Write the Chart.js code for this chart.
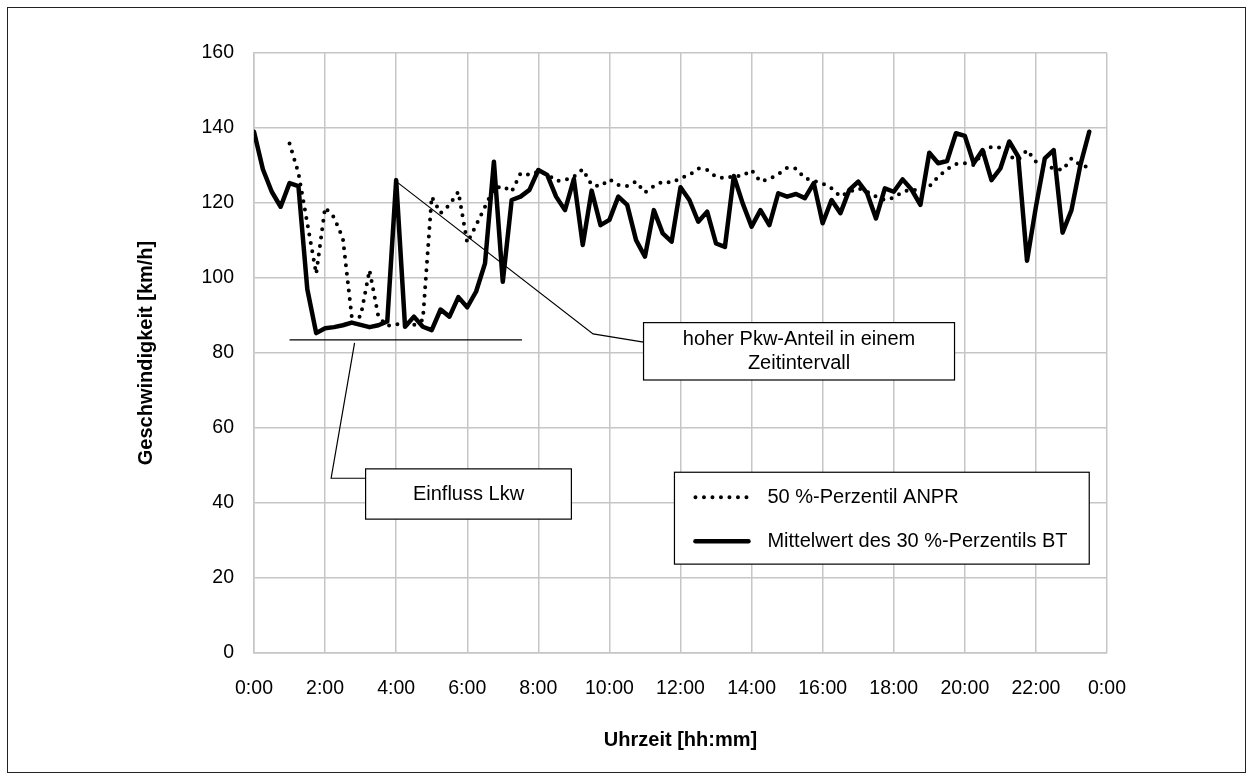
<!DOCTYPE html>
<html lang="de">
<head>
<meta charset="utf-8">
<title>Geschwindigkeit im Tagesverlauf</title>
<script src="https://cdn.jsdelivr.net/npm/chart.js@4.4.1/dist/chart.umd.min.js"></script>
<style>
  html, body { margin: 0; padding: 0; background: #fff; }
  #wrap { width: 1253px; height: 780px; }
</style>
</head>
<body>
<div id="wrap"><canvas id="speedChart" width="1253" height="780"></canvas></div>
<script>
// 15-Minuten-Intervalle 0:00 ... 23:45
const timeSlots = [];
for (let h = 0; h < 24; h++) {
    for (let m = 0; m < 60; m += 15) timeSlots.push(h + ':' + String(m).padStart(2, '0'));
}

const xTickLabels = ['0:00', '2:00', '4:00', '6:00', '8:00', '10:00', '12:00',
                     '14:00', '16:00', '18:00', '20:00', '22:00', '0:00'];
const yTickValues = [0, 20, 40, 60, 80, 100, 120, 140, 160];

// 50 %-Perzentil ANPR (km/h)
const anprMedian = [
    null, null, null, null,
    135.9, 128.0, 114.6, 101.1,
    118.8, 116.2, 110.6, 89.7,
    89.7, 102.1, 89.7, 87.2,
    87.7, 87.5, 87.5, 88.8,
    121.7, 117.3, 119.5, 123.0,
    109.4, 114.1, 119.0, 123.9,
    124.5, 123.0, 127.9, 127.5,
    128.4, 127.7, 125.9, 126.1,
    127.0, 129.0, 124.8, 124.5,
    126.3, 124.8, 124.5, 125.7,
    122.8, 124.5, 125.7, 125.4,
    126.6, 127.5, 129.2, 128.8,
    127.0, 126.6, 127.2, 127.2,
    128.8, 125.7, 126.4, 127.7,
    129.4, 129.2, 126.6, 125.9,
    125.2, 123.9, 121.7, 123.0,
    123.9, 123.0, 121.7, 120.8,
    121.4, 123.0, 123.6, 123.3,
    124.4, 127.0, 129.0, 130.4,
    130.6, 130.1, 133.4, 135.0,
    134.8, 132.5, 131.5, 134.1,
    131.0, 130.1, 129.2, 128.8,
    131.9, 130.1, 129.5, null
];

// Mittelwert des 30 %-Perzentils BT (km/h)
const btMean30 = [
    139.0, 129.0, 123.0, 119.0,
    125.3, 124.5, 97.0, 85.3,
    86.6, 86.9, 87.4, 88.1,
    87.5, 86.9, 87.4, 88.4,
    126.1, 87.0, 89.7, 87.0,
    86.1, 91.6, 89.7, 94.9,
    92.2, 96.4, 103.9, 131.0,
    99.0, 120.8, 121.7, 123.5,
    128.8, 127.5, 121.7, 118.1,
    126.4, 108.8, 123.3, 114.1,
    115.5, 121.7, 119.5, 110.1,
    105.7, 118.1, 111.9, 109.7,
    124.2, 120.8, 115.0, 117.7,
    109.2, 108.3, 127.2, 119.9,
    113.7, 118.1, 114.1, 122.6,
    121.7, 122.4, 121.3, 125.3,
    114.6, 120.8, 117.3, 123.5,
    125.7, 122.6, 115.9, 123.9,
    123.0, 126.3, 123.6, 119.5,
    133.4, 130.6, 131.2, 138.6,
    137.9, 130.6, 134.1, 126.1,
    129.2, 136.4, 132.4, 104.6,
    119.0, 131.9, 134.1, 112.1,
    118.1, 130.1, 139.0, null
];

const toHours = s => { const [h, m] = s.split(':'); return +h + m / 60; };
const asPoints = values => timeSlots.map((s, i) => ({ x: toHours(s), y: values[i] }));

const FONT = '"Liberation Sans", Arial, sans-serif';
const GRID = '#c6c6c6';

// Annotationen in Datenkoordinaten (Stunden / km/h)
const callouts = [
    { line: [[1.0, 83.5], [7.54, 83.5]] },
    { line: [[2.83, 82.7], [2.17, 46.6], [3.14, 46.6]],
      box: { t0: 3.14, t1: 8.93, v0: 49.1, v1: 35.7 }, text: ['Einfluss Lkw'] },
    { line: [[3.98, 125.9], [9.54, 85.1], [10.96, 82.9]],
      box: { t0: 10.96, t1: 19.71, v0: 88.1, v1: 72.8 }, text: ['hoher Pkw-Anteil in einem', 'Zeitintervall'] }
];
const legendBox = { t0: 11.83, t1: 23.5, v0: 48.2, v1: 23.7 };

const overlay = {
    id: 'overlay',
    afterDraw(chart) {
        const { ctx, scales: { x, y } } = chart;
        ctx.save();

        // Rahmen um die gesamte Grafik
        ctx.strokeStyle = '#222';
        ctx.lineWidth = 1;
        ctx.strokeRect(7.5, 7.5, 1238, 765);

        ctx.font = '20px ' + FONT;
        ctx.fillStyle = '#000';
        ctx.textBaseline = 'middle';

        callouts.forEach(c => {
            ctx.strokeStyle = '#000';
            ctx.lineWidth = 1.2;
            ctx.beginPath();
            c.line.forEach(([t, v], i) => {
                const px = x.getPixelForValue(t), py = y.getPixelForValue(v);
                i ? ctx.lineTo(px, py) : ctx.moveTo(px, py);
            });
            ctx.stroke();
            if (!c.box) return;
            const bx = x.getPixelForValue(c.box.t0), bw = x.getPixelForValue(c.box.t1) - bx;
            const by = y.getPixelForValue(c.box.v0), bh = y.getPixelForValue(c.box.v1) - by;
            ctx.fillStyle = '#fff';
            ctx.fillRect(bx, by, bw, bh);
            ctx.strokeRect(bx, by, bw, bh);
            ctx.fillStyle = '#000';
            ctx.textAlign = 'center';
            const lh = 24;
            c.text.forEach((line, i) => {
                ctx.fillText(line, bx + bw / 2, by + bh / 2 + (i - (c.text.length - 1) / 2) * lh);
            });
        });

        // Legende
        const lx = x.getPixelForValue(legendBox.t0), lw = x.getPixelForValue(legendBox.t1) - lx;
        const ly = y.getPixelForValue(legendBox.v0), lhgt = y.getPixelForValue(legendBox.v1) - ly;
        ctx.fillStyle = '#fff';
        ctx.fillRect(lx, ly, lw, lhgt);
        ctx.strokeStyle = '#000';
        ctx.lineWidth = 1.2;
        ctx.strokeRect(lx, ly, lw, lhgt);
        ctx.textAlign = 'left';
        chart.data.datasets.forEach((ds, i) => {
            const rowY = ly + 25 + i * 44;
            ctx.strokeStyle = ds.borderColor;
            ctx.lineWidth = ds.borderWidth;
            ctx.lineCap = ds.borderCapStyle;
            ctx.setLineDash(ds.borderDash || []);
            ctx.beginPath();
            ctx.moveTo(lx + 21, rowY);
            ctx.lineTo(lx + 74, rowY);
            ctx.stroke();
            ctx.setLineDash([]);
            ctx.fillStyle = '#000';
            ctx.fillText(ds.label, lx + 93, rowY);
        });
        ctx.restore();
    }
};

new Chart(document.getElementById('speedChart'), {
    type: 'line',
    data: {
        datasets: [{
            label: '50 %-Perzentil ANPR',
            data: asPoints(anprMedian),
            borderColor: '#000',
            borderWidth: 4,
            borderDash: [0, 8.5],
            borderCapStyle: 'round',
            pointRadius: 0,
            tension: 0,
            order: 1
        }, {
            label: 'Mittelwert des 30 %-Perzentils BT',
            data: asPoints(btMean30),
            borderColor: '#000',
            borderWidth: 4.5,
            borderCapStyle: 'round',
            borderJoinStyle: 'round',
            pointRadius: 0,
            tension: 0,
            order: 0
        }]
    },
    options: {
        responsive: false,
        animation: false,
        layout: { padding: { top: 53, right: 146, bottom: 0, left: 0 } },
        plugins: {
            legend: { display: false },
            tooltip: { enabled: false }
        },
        scales: {
            x: {
                type: 'linear',
                min: 0,
                max: 24,
                afterFit: s => { s.height = 127; },
                afterBuildTicks: s => { s.ticks = xTickLabels.map((_, i) => ({ value: i * 2 })); },
                ticks: {
                    autoSkip: false,
                    maxRotation: 0,
                    padding: 24,
                    color: '#000',
                    font: { family: FONT, size: 19.5 },
                    callback: (v, i) => xTickLabels[i]
                },
                grid: { color: GRID, lineWidth: 1.5, drawTicks: false },
                border: { color: GRID, width: 1.5 },
                title: {
                    display: true,
                    text: 'Uhrzeit [hh:mm]',
                    color: '#000',
                    font: { family: FONT, size: 20, weight: 'bold' },
                    padding: { top: 0, bottom: 28 }
                }
            },
            y: {
                min: 0,
                max: 160,
                afterFit: s => { s.width = 254; },
                afterBuildTicks: s => { s.ticks = yTickValues.map(v => ({ value: v })); },
                ticks: {
                    padding: 20,
                    color: '#000',
                    font: { family: FONT, size: 19.5 }
                },
                grid: { color: GRID, lineWidth: 1.5, drawTicks: false },
                border: { color: GRID, width: 1.5 },
                title: {
                    display: true,
                    text: 'Geschwindigkeit [km/h]',
                    color: '#000',
                    font: { family: FONT, size: 20, weight: 'bold' },
                    padding: { top: 134, bottom: 0 }
                }
            }
        }
    },
    plugins: [overlay]
});
</script>
</body>
</html>
